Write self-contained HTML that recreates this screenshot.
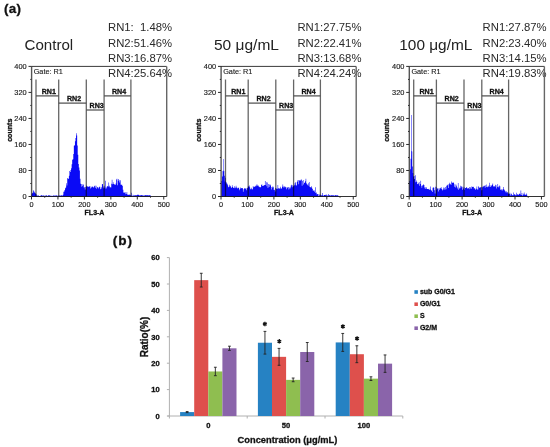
<!DOCTYPE html>
<html><head><meta charset="utf-8"><title>Figure</title>
<style>
html,body{margin:0;padding:0;background:#fff;width:550px;height:447px;overflow:hidden;}
svg{display:block;will-change:transform;}
text{font-family:"Liberation Sans",sans-serif;}
</style></head>
<body>
<svg width="550" height="447" viewBox="0 0 550 447">
<text x="3.9" y="12.9" font-size="13.4" letter-spacing="0.4" font-weight="bold" fill="#111" stroke="#111" stroke-width="0.3">(a)</text>
<text x="24.5" y="50" font-size="15.1" fill="#222">Control</text>
<text x="214.0" y="50.4" font-size="15.5" fill="#222">50 μg/mL</text>
<text x="399.3" y="50.4" font-size="15.4" fill="#222">100 μg/mL</text>
<text x="108.0" y="31.40" font-size="11.3" fill="#2a2a2a">RN1:  1.48%</text>
<text x="108.0" y="46.50" font-size="11.3" fill="#2a2a2a">RN2:51.46%</text>
<text x="108.0" y="61.60" font-size="11.3" fill="#2a2a2a">RN3:16.87%</text>
<text x="108.0" y="76.70" font-size="11.3" fill="#2a2a2a">RN4:25.64%</text>
<text x="297.4" y="31.40" font-size="11.3" fill="#2a2a2a">RN1:27.75%</text>
<text x="297.4" y="46.50" font-size="11.3" fill="#2a2a2a">RN2:22.41%</text>
<text x="297.4" y="61.60" font-size="11.3" fill="#2a2a2a">RN3:13.68%</text>
<text x="297.4" y="76.70" font-size="11.3" fill="#2a2a2a">RN4:24.24%</text>
<text x="482.6" y="31.40" font-size="11.3" fill="#2a2a2a">RN1:27.87%</text>
<text x="482.6" y="46.50" font-size="11.3" fill="#2a2a2a">RN2:23.40%</text>
<text x="482.6" y="61.60" font-size="11.3" fill="#2a2a2a">RN3:14.15%</text>
<text x="482.6" y="76.70" font-size="11.3" fill="#2a2a2a">RN4:19.83%</text>
<path d="M31.50,196.5V194.19H32.05V192.75H32.60V193.14H33.15V190.30H33.70V191.22H34.25V192.18H34.80V192.89H35.35V193.54H35.90V194.03H36.45V195.49H37.00V195.43H37.55V195.70H38.10V195.32H38.65V195.89H39.20V196.08H39.75V196.07H40.30V195.75H40.85V195.24H41.40V195.20H41.95V195.32H42.50V196.05H43.05V195.47H43.60V195.53H44.15V196.01H44.70V195.48H45.25V195.69H45.80V195.59H46.35V195.26H46.90V195.73H47.45V195.96H48.00V195.34H48.55V195.40H49.10V195.57H49.65V195.23H50.20V195.65H50.75V195.94H51.30V195.79H51.85V195.68H52.40V195.97H52.95V195.33H53.50V195.71H54.05V195.54H54.60V195.74H55.15V195.30H55.70V195.90H56.25V195.29H56.80V195.35H57.35V195.93H57.90V196.05H58.45V195.59H59.00V195.57H59.55V195.42H60.10V195.45H60.65V195.76H61.20V195.11H61.75V195.78H62.30V195.40H62.85V194.63H63.40V191.72H63.95V191.42H64.50V190.05H65.05V188.29H65.60V187.47H66.15V183.25H66.70V185.47H67.25V178.04H67.80V178.68H68.35V178.78H68.90V175.72H69.45V171.09H70.00V172.06H70.55V169.92H71.10V168.31H71.65V164.26H72.20V159.85H72.75V159.13H73.30V153.94H73.85V145.66H74.40V145.17H74.95V141.23H75.50V138.00H76.05V133.30H76.60V135.50H77.15V145.48H77.70V154.69H78.25V163.93H78.80V167.52H79.35V170.46H79.90V178.80H80.45V183.77H81.00V184.01H81.55V186.68H82.10V185.85H82.65V183.93H83.20V184.87H83.75V187.42H84.30V187.15H84.85V189.57H85.40V186.88H85.95V186.42H86.50V185.55H87.05V186.16H87.60V186.85H88.15V186.66H88.70V186.72H89.25V186.15H89.80V186.17H90.35V188.41H90.90V187.83H91.45V186.79H92.00V186.75H92.55V186.51H93.10V187.45H93.65V187.29H94.20V186.06H94.75V185.58H95.30V187.74H95.85V185.64H96.40V188.76H96.95V187.41H97.50V187.04H98.05V188.62H98.60V187.62H99.15V186.71H99.70V186.84H100.25V189.32H100.80V188.71H101.35V187.30H101.90V184.23H102.45V184.11H103.00V186.60H103.55V188.24H104.10V185.86H104.65V187.49H105.20V180.68H105.75V188.64H106.30V187.48H106.85V186.22H107.40V186.30H107.95V186.56H108.50V182.41H109.05V185.74H109.60V187.27H110.15V187.36H110.70V187.43H111.25V183.85H111.80V179.74H112.35V184.18H112.90V182.18H113.45V183.90H114.00V184.78H114.55V184.00H115.10V185.09H115.65V183.40H116.20V179.60H116.75V178.84H117.30V185.23H117.85V180.67H118.40V178.88H118.95V180.21H119.50V182.46H120.05V180.36H120.60V184.70H121.15V184.77H121.70V184.84H122.25V186.01H122.80V189.82H123.35V192.59H123.90V192.98H124.45V192.24H125.00V192.37H125.55V194.33H126.10V193.82H126.65V192.04H127.20V194.46H127.75V194.91H128.30V194.76H128.85V194.46H129.40V194.77H129.95V195.53H130.50V195.05H131.05V192.64H131.60V195.72H132.15V196.13H132.70V194.70H133.25V195.64H133.80V195.23H134.35V195.50H134.90V195.26H135.45V195.26H136.00V195.13H136.55V195.27H137.10V194.82H137.65V194.82H138.20V194.86H138.75V194.91H139.30V195.58H139.85V195.78H140.40V195.01H140.95V195.25H141.50V194.91H142.05V195.29H142.60V195.50H143.15V195.46H143.70V195.71H144.25V195.40H144.80V194.95H145.35V195.24H145.90V195.31H146.45V195.20H147.00V194.93H147.55V195.46H148.10V195.34H148.65V195.54H149.20V195.23H149.75V194.99H150.30V195.71H150.85V196.06H151.00V196.5Z" fill="#0a0af6"/>
<path d="M31.5,66.4H166.7" fill="none" stroke="#3a3a3a" stroke-width="1"/>
<path d="M166.7,66.4V196.5" fill="none" stroke="#666" stroke-width="1.4"/>
<path d="M31.6,66.4V196.5" fill="none" stroke="#555" stroke-width="1.4" style="mix-blend-mode:multiply"/>
<path d="M31.5,196.5H166.7" fill="none" stroke="#333" stroke-width="1.1" style="mix-blend-mode:multiply"/>
<path d="M28.5,196.50H31.5" stroke="#2a2a2a" stroke-width="1"/>
<text x="26.70" y="199.10" text-anchor="end" font-size="7.4" fill="#1a1a1a" stroke="#1a1a1a" stroke-width="0.15">0</text>
<path d="M30.3,183.49H31.5" stroke="#2a2a2a" stroke-width="1"/>
<path d="M28.5,170.48H31.5" stroke="#2a2a2a" stroke-width="1"/>
<text x="26.70" y="173.08" text-anchor="end" font-size="7.4" fill="#1a1a1a" stroke="#1a1a1a" stroke-width="0.15">80</text>
<path d="M30.3,157.47H31.5" stroke="#2a2a2a" stroke-width="1"/>
<path d="M28.5,144.46H31.5" stroke="#2a2a2a" stroke-width="1"/>
<text x="26.70" y="147.06" text-anchor="end" font-size="7.4" fill="#1a1a1a" stroke="#1a1a1a" stroke-width="0.15">160</text>
<path d="M30.3,131.45H31.5" stroke="#2a2a2a" stroke-width="1"/>
<path d="M28.5,118.44H31.5" stroke="#2a2a2a" stroke-width="1"/>
<text x="26.70" y="121.04" text-anchor="end" font-size="7.4" fill="#1a1a1a" stroke="#1a1a1a" stroke-width="0.15">240</text>
<path d="M30.3,105.43H31.5" stroke="#2a2a2a" stroke-width="1"/>
<path d="M28.5,92.42H31.5" stroke="#2a2a2a" stroke-width="1"/>
<text x="26.70" y="95.02" text-anchor="end" font-size="7.4" fill="#1a1a1a" stroke="#1a1a1a" stroke-width="0.15">320</text>
<path d="M30.3,79.41H31.5" stroke="#2a2a2a" stroke-width="1"/>
<path d="M28.5,66.40H31.5" stroke="#2a2a2a" stroke-width="1"/>
<text x="26.70" y="69.00" text-anchor="end" font-size="7.4" fill="#1a1a1a" stroke="#1a1a1a" stroke-width="0.15">400</text>
<path d="M31.50,196.5V199.5" stroke="#2a2a2a" stroke-width="1"/>
<text x="31.50" y="207.2" text-anchor="middle" font-size="7.3" fill="#1a1a1a" stroke="#1a1a1a" stroke-width="0.15">0</text>
<path d="M44.73,196.5V197.7" stroke="#2a2a2a" stroke-width="1"/>
<path d="M57.95,196.5V199.5" stroke="#2a2a2a" stroke-width="1"/>
<text x="57.95" y="207.2" text-anchor="middle" font-size="7.3" fill="#1a1a1a" stroke="#1a1a1a" stroke-width="0.15">100</text>
<path d="M71.18,196.5V197.7" stroke="#2a2a2a" stroke-width="1"/>
<path d="M84.40,196.5V199.5" stroke="#2a2a2a" stroke-width="1"/>
<text x="84.40" y="207.2" text-anchor="middle" font-size="7.3" fill="#1a1a1a" stroke="#1a1a1a" stroke-width="0.15">200</text>
<path d="M97.62,196.5V197.7" stroke="#2a2a2a" stroke-width="1"/>
<path d="M110.85,196.5V199.5" stroke="#2a2a2a" stroke-width="1"/>
<text x="110.85" y="207.2" text-anchor="middle" font-size="7.3" fill="#1a1a1a" stroke="#1a1a1a" stroke-width="0.15">300</text>
<path d="M124.08,196.5V197.7" stroke="#2a2a2a" stroke-width="1"/>
<path d="M137.30,196.5V199.5" stroke="#2a2a2a" stroke-width="1"/>
<text x="137.30" y="207.2" text-anchor="middle" font-size="7.3" fill="#1a1a1a" stroke="#1a1a1a" stroke-width="0.15">400</text>
<path d="M150.53,196.5V197.7" stroke="#2a2a2a" stroke-width="1"/>
<path d="M163.75,196.5V199.5" stroke="#2a2a2a" stroke-width="1"/>
<text x="163.75" y="207.2" text-anchor="middle" font-size="7.3" fill="#1a1a1a" stroke="#1a1a1a" stroke-width="0.15">500</text>
<text x="33.70" y="73.9" font-size="7.3" fill="#1a1a1a" stroke="#1a1a1a" stroke-width="0.12">Gate: R1</text>
<path d="M36.00,79.5V196.5" stroke="#666" stroke-width="1.3" style="mix-blend-mode:multiply"/>
<path d="M58.70,79.5V196.5" stroke="#666" stroke-width="1.3" style="mix-blend-mode:multiply"/>
<path d="M86.30,79.5V196.5" stroke="#666" stroke-width="1.3" style="mix-blend-mode:multiply"/>
<path d="M104.10,79.5V196.5" stroke="#666" stroke-width="1.3" style="mix-blend-mode:multiply"/>
<path d="M130.90,79.5V196.5" stroke="#666" stroke-width="1.3" style="mix-blend-mode:multiply"/>
<path d="M36.00,95.9H58.70" stroke="#4a4a4a" stroke-width="1.2"/>
<text x="48.85" y="93.90" text-anchor="middle" font-size="7.1" font-weight="bold" fill="#111" stroke="#111" stroke-width="0.3">RN1</text>
<path d="M58.70,103.1H86.30" stroke="#4a4a4a" stroke-width="1.2"/>
<text x="74.00" y="101.10" text-anchor="middle" font-size="7.1" font-weight="bold" fill="#111" stroke="#111" stroke-width="0.3">RN2</text>
<path d="M86.30,110.0H104.10" stroke="#4a4a4a" stroke-width="1.2"/>
<text x="96.70" y="108.00" text-anchor="middle" font-size="7.1" font-weight="bold" fill="#111" stroke="#111" stroke-width="0.3">RN3</text>
<path d="M104.10,95.9H130.90" stroke="#4a4a4a" stroke-width="1.2"/>
<text x="119.00" y="93.90" text-anchor="middle" font-size="7.1" font-weight="bold" fill="#111" stroke="#111" stroke-width="0.3">RN4</text>
<text x="84.60" y="214.6" font-size="7" font-weight="bold" fill="#111" stroke="#111" stroke-width="0.3">FL3-A</text>
<text transform="translate(11.60,130.2) rotate(-90)" text-anchor="middle" font-size="7.1" font-weight="bold" fill="#111" stroke="#111" stroke-width="0.3">counts</text>
<path d="M221.50,196.5V180.88H222.05V176.43H222.60V171.00H223.15V170.50H223.70V171.00H224.25V175.72H224.80V181.39H225.35V177.75H225.90V183.60H226.45V182.22H227.00V183.87H227.55V185.31H228.10V187.32H228.65V186.70H229.20V184.68H229.75V186.44H230.30V185.73H230.85V187.14H231.40V188.05H231.95V185.31H232.50V187.01H233.05V187.70H233.60V188.04H234.15V186.37H234.70V188.37H235.25V187.58H235.80V185.83H236.35V187.58H236.90V187.74H237.45V188.41H238.00V188.00H238.55V187.43H239.10V190.15H239.65V189.00H240.20V187.54H240.75V188.61H241.30V188.07H241.85V188.05H242.40V188.21H242.95V191.78H243.50V189.36H244.05V188.30H244.60V188.58H245.15V188.58H245.70V188.55H246.25V190.34H246.80V188.35H247.35V187.72H247.90V186.19H248.45V186.42H249.00V185.44H249.55V187.27H250.10V188.68H250.65V189.38H251.20V187.79H251.75V188.96H252.30V189.52H252.85V186.06H253.40V187.16H253.95V187.06H254.50V186.52H255.05V185.79H255.60V186.52H256.15V185.43H256.70V184.25H257.25V185.69H257.80V185.22H258.35V186.13H258.90V187.32H259.45V186.83H260.00V187.29H260.55V187.21H261.10V184.92H261.65V184.14H262.20V186.02H262.75V185.65H263.30V185.72H263.85V185.19H264.40V184.94H264.95V180.91H265.50V184.90H266.05V182.18H266.60V186.23H267.15V182.43H267.70V187.93H268.25V184.04H268.80V187.01H269.35V184.55H269.90V184.48H270.45V185.57H271.00V189.56H271.55V187.11H272.10V187.43H272.65V186.33H273.20V187.19H273.75V189.99H274.30V189.79H274.85V191.55H275.40V187.94H275.95V188.55H276.50V188.73H277.05V188.78H277.60V185.12H278.15V188.45H278.70V187.93H279.25V188.78H279.80V188.41H280.35V186.65H280.90V188.47H281.45V188.62H282.00V186.75H282.55V184.49H283.10V186.53H283.65V187.81H284.20V186.46H284.75V186.45H285.30V187.25H285.85V187.23H286.40V189.28H286.95V187.80H287.50V187.29H288.05V186.92H288.60V189.53H289.15V187.44H289.70V188.76H290.25V187.46H290.80V185.48H291.35V184.75H291.90V187.13H292.45V185.34H293.00V186.29H293.55V185.54H294.10V185.14H294.65V183.34H295.20V182.25H295.75V185.35H296.30V185.60H296.85V182.09H297.40V180.43H297.95V180.11H298.50V184.17H299.05V180.00H299.60V180.98H300.15V180.45H300.70V179.80H301.25V179.48H301.80V185.64H302.35V180.96H302.90V180.07H303.45V184.61H304.00V183.04H304.55V182.47H305.10V181.32H305.65V178.63H306.20V183.26H306.75V184.35H307.30V184.74H307.85V185.64H308.40V183.36H308.95V182.05H309.50V186.82H310.05V187.16H310.60V187.13H311.15V186.34H311.70V187.83H312.25V189.11H312.80V190.75H313.35V190.42H313.90V190.13H314.45V191.74H315.00V187.36H315.55V193.00H316.10V192.42H316.65V194.62H317.20V193.92H317.75V193.98H318.30V196.02H318.85V194.23H319.40V195.39H319.95V195.52H320.50V194.44H321.05V195.13H321.60V195.38H322.15V192.94H322.70V195.24H323.25V196.13H323.80V194.91H324.35V194.94H324.90V194.67H325.45V195.16H326.00V194.62H326.55V195.48H327.10V195.49H327.65V195.64H328.20V194.02H328.75V195.47H329.30V194.93H329.85V195.40H330.40V195.49H330.95V195.59H331.50V195.08H332.05V195.09H332.60V195.66H333.15V195.04H333.70V195.76H334.25V195.68H334.80V195.02H335.35V195.14H335.90V195.59H336.45V195.19H337.00V195.06H337.55V195.74H338.10V195.72H338.65V196.30H339.00V196.5Z" fill="#0a0af6"/>
<path d="M221.0,66.4H356.2" fill="none" stroke="#3a3a3a" stroke-width="1"/>
<path d="M356.2,66.4V196.5" fill="none" stroke="#666" stroke-width="1.4"/>
<path d="M221.1,66.4V196.5" fill="none" stroke="#555" stroke-width="1.4" style="mix-blend-mode:multiply"/>
<path d="M221.0,196.5H356.2" fill="none" stroke="#333" stroke-width="1.1" style="mix-blend-mode:multiply"/>
<path d="M218.0,196.50H221.0" stroke="#2a2a2a" stroke-width="1"/>
<text x="216.20" y="199.10" text-anchor="end" font-size="7.4" fill="#1a1a1a" stroke="#1a1a1a" stroke-width="0.15">0</text>
<path d="M219.8,183.49H221.0" stroke="#2a2a2a" stroke-width="1"/>
<path d="M218.0,170.48H221.0" stroke="#2a2a2a" stroke-width="1"/>
<text x="216.20" y="173.08" text-anchor="end" font-size="7.4" fill="#1a1a1a" stroke="#1a1a1a" stroke-width="0.15">80</text>
<path d="M219.8,157.47H221.0" stroke="#2a2a2a" stroke-width="1"/>
<path d="M218.0,144.46H221.0" stroke="#2a2a2a" stroke-width="1"/>
<text x="216.20" y="147.06" text-anchor="end" font-size="7.4" fill="#1a1a1a" stroke="#1a1a1a" stroke-width="0.15">160</text>
<path d="M219.8,131.45H221.0" stroke="#2a2a2a" stroke-width="1"/>
<path d="M218.0,118.44H221.0" stroke="#2a2a2a" stroke-width="1"/>
<text x="216.20" y="121.04" text-anchor="end" font-size="7.4" fill="#1a1a1a" stroke="#1a1a1a" stroke-width="0.15">240</text>
<path d="M219.8,105.43H221.0" stroke="#2a2a2a" stroke-width="1"/>
<path d="M218.0,92.42H221.0" stroke="#2a2a2a" stroke-width="1"/>
<text x="216.20" y="95.02" text-anchor="end" font-size="7.4" fill="#1a1a1a" stroke="#1a1a1a" stroke-width="0.15">320</text>
<path d="M219.8,79.41H221.0" stroke="#2a2a2a" stroke-width="1"/>
<path d="M218.0,66.40H221.0" stroke="#2a2a2a" stroke-width="1"/>
<text x="216.20" y="69.00" text-anchor="end" font-size="7.4" fill="#1a1a1a" stroke="#1a1a1a" stroke-width="0.15">400</text>
<path d="M221.00,196.5V199.5" stroke="#2a2a2a" stroke-width="1"/>
<text x="221.00" y="207.2" text-anchor="middle" font-size="7.3" fill="#1a1a1a" stroke="#1a1a1a" stroke-width="0.15">0</text>
<path d="M234.22,196.5V197.7" stroke="#2a2a2a" stroke-width="1"/>
<path d="M247.45,196.5V199.5" stroke="#2a2a2a" stroke-width="1"/>
<text x="247.45" y="207.2" text-anchor="middle" font-size="7.3" fill="#1a1a1a" stroke="#1a1a1a" stroke-width="0.15">100</text>
<path d="M260.68,196.5V197.7" stroke="#2a2a2a" stroke-width="1"/>
<path d="M273.90,196.5V199.5" stroke="#2a2a2a" stroke-width="1"/>
<text x="273.90" y="207.2" text-anchor="middle" font-size="7.3" fill="#1a1a1a" stroke="#1a1a1a" stroke-width="0.15">200</text>
<path d="M287.12,196.5V197.7" stroke="#2a2a2a" stroke-width="1"/>
<path d="M300.35,196.5V199.5" stroke="#2a2a2a" stroke-width="1"/>
<text x="300.35" y="207.2" text-anchor="middle" font-size="7.3" fill="#1a1a1a" stroke="#1a1a1a" stroke-width="0.15">300</text>
<path d="M313.57,196.5V197.7" stroke="#2a2a2a" stroke-width="1"/>
<path d="M326.80,196.5V199.5" stroke="#2a2a2a" stroke-width="1"/>
<text x="326.80" y="207.2" text-anchor="middle" font-size="7.3" fill="#1a1a1a" stroke="#1a1a1a" stroke-width="0.15">400</text>
<path d="M340.02,196.5V197.7" stroke="#2a2a2a" stroke-width="1"/>
<path d="M353.25,196.5V199.5" stroke="#2a2a2a" stroke-width="1"/>
<text x="353.25" y="207.2" text-anchor="middle" font-size="7.3" fill="#1a1a1a" stroke="#1a1a1a" stroke-width="0.15">500</text>
<text x="223.20" y="73.9" font-size="7.3" fill="#1a1a1a" stroke="#1a1a1a" stroke-width="0.12">Gate: R1</text>
<path d="M225.50,79.5V196.5" stroke="#666" stroke-width="1.3" style="mix-blend-mode:multiply"/>
<path d="M248.20,79.5V196.5" stroke="#666" stroke-width="1.3" style="mix-blend-mode:multiply"/>
<path d="M275.80,79.5V196.5" stroke="#666" stroke-width="1.3" style="mix-blend-mode:multiply"/>
<path d="M293.60,79.5V196.5" stroke="#666" stroke-width="1.3" style="mix-blend-mode:multiply"/>
<path d="M320.40,79.5V196.5" stroke="#666" stroke-width="1.3" style="mix-blend-mode:multiply"/>
<path d="M225.50,95.9H248.20" stroke="#4a4a4a" stroke-width="1.2"/>
<text x="238.35" y="93.90" text-anchor="middle" font-size="7.1" font-weight="bold" fill="#111" stroke="#111" stroke-width="0.3">RN1</text>
<path d="M248.20,103.1H275.80" stroke="#4a4a4a" stroke-width="1.2"/>
<text x="263.50" y="101.10" text-anchor="middle" font-size="7.1" font-weight="bold" fill="#111" stroke="#111" stroke-width="0.3">RN2</text>
<path d="M275.80,110.0H293.60" stroke="#4a4a4a" stroke-width="1.2"/>
<text x="286.20" y="108.00" text-anchor="middle" font-size="7.1" font-weight="bold" fill="#111" stroke="#111" stroke-width="0.3">RN3</text>
<path d="M293.60,95.9H320.40" stroke="#4a4a4a" stroke-width="1.2"/>
<text x="308.50" y="93.90" text-anchor="middle" font-size="7.1" font-weight="bold" fill="#111" stroke="#111" stroke-width="0.3">RN4</text>
<text x="274.10" y="214.6" font-size="7" font-weight="bold" fill="#111" stroke="#111" stroke-width="0.3">FL3-A</text>
<text transform="translate(201.10,130.2) rotate(-90)" text-anchor="middle" font-size="7.1" font-weight="bold" fill="#111" stroke="#111" stroke-width="0.3">counts</text>
<path d="M409.50,196.5V181.01H410.05V169.27H410.60V158.73H411.15V151.00H411.70V151.50H412.25V166.59H412.80V173.03H413.35V176.44H413.90V176.05H414.45V179.02H415.00V175.27H415.55V182.13H416.10V180.54H416.65V181.94H417.20V183.91H417.75V184.35H418.30V183.28H418.85V182.00H419.40V185.75H419.95V184.06H420.50V180.79H421.05V185.81H421.60V187.78H422.15V185.53H422.70V185.18H423.25V184.14H423.80V185.10H424.35V187.52H424.90V189.00H425.45V187.26H426.00V187.35H426.55V188.72H427.10V188.94H427.65V188.90H428.20V189.19H428.75V188.73H429.30V190.01H429.85V189.47H430.40V186.53H430.95V190.03H431.50V191.10H432.05V192.07H432.60V187.66H433.15V187.36H433.70V187.63H434.25V190.27H434.80V193.48H435.35V186.71H435.90V189.86H436.45V187.23H437.00V187.97H437.55V188.96H438.10V191.40H438.65V188.25H439.20V189.64H439.75V188.26H440.30V188.26H440.85V187.08H441.40V188.68H441.95V190.41H442.50V189.38H443.05V187.42H443.60V189.62H444.15V187.67H444.70V189.75H445.25V186.99H445.80V189.15H446.35V185.79H446.90V185.41H447.45V184.81H448.00V188.09H448.55V184.21H449.10V182.75H449.65V184.27H450.20V183.64H450.75V185.06H451.30V181.57H451.85V182.66H452.40V182.76H452.95V182.24H453.50V183.12H454.05V186.64H454.60V184.20H455.15V187.55H455.70V184.47H456.25V185.67H456.80V187.26H457.35V188.40H457.90V182.92H458.45V189.78H459.00V187.63H459.55V188.71H460.10V185.68H460.65V187.82H461.20V186.18H461.75V186.79H462.30V189.82H462.85V186.82H463.40V188.60H463.95V187.25H464.50V189.87H465.05V188.04H465.60V188.11H466.15V187.09H466.70V187.86H467.25V188.64H467.80V187.94H468.35V188.26H468.90V189.35H469.45V187.08H470.00V188.59H470.55V187.06H471.10V188.68H471.65V186.32H472.20V187.04H472.75V187.12H473.30V186.85H473.85V188.64H474.40V188.08H474.95V188.75H475.50V190.07H476.05V188.63H476.60V186.60H477.15V189.45H477.70V189.45H478.25V186.16H478.80V187.05H479.35V188.10H479.90V187.73H480.45V186.96H481.00V187.05H481.55V190.26H482.10V187.32H482.65V186.40H483.20V186.40H483.75V185.75H484.30V185.72H484.85V187.74H485.40V185.24H485.95V186.94H486.50V184.48H487.05V187.13H487.60V186.40H488.15V185.70H488.70V187.00H489.25V182.64H489.80V185.17H490.35V187.11H490.90V186.15H491.45V185.18H492.00V184.70H492.55V183.59H493.10V185.91H493.65V187.02H494.20V185.88H494.75V186.78H495.30V184.68H495.85V185.31H496.40V188.49H496.95V187.00H497.50V184.00H498.05V186.59H498.60V187.52H499.15V185.60H499.70V186.19H500.25V189.89H500.80V189.10H501.35V190.35H501.90V189.23H502.45V190.46H503.00V187.01H503.55V189.24H504.10V189.76H504.65V190.70H505.20V191.46H505.75V192.38H506.30V191.15H506.85V192.70H507.40V192.10H507.95V193.89H508.50V192.99H509.05V193.92H509.60V192.72H510.15V195.42H510.70V193.75H511.25V193.73H511.80V195.46H512.35V194.98H512.90V195.29H513.45V192.48H514.00V193.96H514.55V194.72H515.10V194.84H515.65V195.46H516.20V192.70H516.75V194.74H517.30V193.88H517.85V195.00H518.40V194.50H518.95V193.97H519.50V193.44H520.05V194.49H520.60V190.40H521.15V194.98H521.70V193.05H522.25V195.69H522.80V194.89H523.35V193.86H523.90V192.51H524.45V194.62H525.00V194.70H525.55V194.81H526.10V193.53H526.65V194.64H527.20V196.02H527.50V196.5Z" fill="#0a0af6"/>
<path d="M409.2,66.4H544.4" fill="none" stroke="#3a3a3a" stroke-width="1"/>
<path d="M544.4,66.4V196.5" fill="none" stroke="#666" stroke-width="1.4"/>
<path d="M409.3,66.4V196.5" fill="none" stroke="#555" stroke-width="1.4" style="mix-blend-mode:multiply"/>
<path d="M409.2,196.5H544.4" fill="none" stroke="#333" stroke-width="1.1" style="mix-blend-mode:multiply"/>
<path d="M406.2,196.50H409.2" stroke="#2a2a2a" stroke-width="1"/>
<text x="404.40" y="199.10" text-anchor="end" font-size="7.4" fill="#1a1a1a" stroke="#1a1a1a" stroke-width="0.15">0</text>
<path d="M408.0,183.49H409.2" stroke="#2a2a2a" stroke-width="1"/>
<path d="M406.2,170.48H409.2" stroke="#2a2a2a" stroke-width="1"/>
<text x="404.40" y="173.08" text-anchor="end" font-size="7.4" fill="#1a1a1a" stroke="#1a1a1a" stroke-width="0.15">80</text>
<path d="M408.0,157.47H409.2" stroke="#2a2a2a" stroke-width="1"/>
<path d="M406.2,144.46H409.2" stroke="#2a2a2a" stroke-width="1"/>
<text x="404.40" y="147.06" text-anchor="end" font-size="7.4" fill="#1a1a1a" stroke="#1a1a1a" stroke-width="0.15">160</text>
<path d="M408.0,131.45H409.2" stroke="#2a2a2a" stroke-width="1"/>
<path d="M406.2,118.44H409.2" stroke="#2a2a2a" stroke-width="1"/>
<text x="404.40" y="121.04" text-anchor="end" font-size="7.4" fill="#1a1a1a" stroke="#1a1a1a" stroke-width="0.15">240</text>
<path d="M408.0,105.43H409.2" stroke="#2a2a2a" stroke-width="1"/>
<path d="M406.2,92.42H409.2" stroke="#2a2a2a" stroke-width="1"/>
<text x="404.40" y="95.02" text-anchor="end" font-size="7.4" fill="#1a1a1a" stroke="#1a1a1a" stroke-width="0.15">320</text>
<path d="M408.0,79.41H409.2" stroke="#2a2a2a" stroke-width="1"/>
<path d="M406.2,66.40H409.2" stroke="#2a2a2a" stroke-width="1"/>
<text x="404.40" y="69.00" text-anchor="end" font-size="7.4" fill="#1a1a1a" stroke="#1a1a1a" stroke-width="0.15">400</text>
<path d="M409.20,196.5V199.5" stroke="#2a2a2a" stroke-width="1"/>
<text x="409.20" y="207.2" text-anchor="middle" font-size="7.3" fill="#1a1a1a" stroke="#1a1a1a" stroke-width="0.15">0</text>
<path d="M422.43,196.5V197.7" stroke="#2a2a2a" stroke-width="1"/>
<path d="M435.65,196.5V199.5" stroke="#2a2a2a" stroke-width="1"/>
<text x="435.65" y="207.2" text-anchor="middle" font-size="7.3" fill="#1a1a1a" stroke="#1a1a1a" stroke-width="0.15">100</text>
<path d="M448.88,196.5V197.7" stroke="#2a2a2a" stroke-width="1"/>
<path d="M462.10,196.5V199.5" stroke="#2a2a2a" stroke-width="1"/>
<text x="462.10" y="207.2" text-anchor="middle" font-size="7.3" fill="#1a1a1a" stroke="#1a1a1a" stroke-width="0.15">200</text>
<path d="M475.32,196.5V197.7" stroke="#2a2a2a" stroke-width="1"/>
<path d="M488.55,196.5V199.5" stroke="#2a2a2a" stroke-width="1"/>
<text x="488.55" y="207.2" text-anchor="middle" font-size="7.3" fill="#1a1a1a" stroke="#1a1a1a" stroke-width="0.15">300</text>
<path d="M501.77,196.5V197.7" stroke="#2a2a2a" stroke-width="1"/>
<path d="M515.00,196.5V199.5" stroke="#2a2a2a" stroke-width="1"/>
<text x="515.00" y="207.2" text-anchor="middle" font-size="7.3" fill="#1a1a1a" stroke="#1a1a1a" stroke-width="0.15">400</text>
<path d="M528.23,196.5V197.7" stroke="#2a2a2a" stroke-width="1"/>
<path d="M541.45,196.5V199.5" stroke="#2a2a2a" stroke-width="1"/>
<text x="541.45" y="207.2" text-anchor="middle" font-size="7.3" fill="#1a1a1a" stroke="#1a1a1a" stroke-width="0.15">500</text>
<text x="411.40" y="73.9" font-size="7.3" fill="#1a1a1a" stroke="#1a1a1a" stroke-width="0.12">Gate: R1</text>
<path d="M413.70,79.5V196.5" stroke="#666" stroke-width="1.3" style="mix-blend-mode:multiply"/>
<path d="M436.40,79.5V196.5" stroke="#666" stroke-width="1.3" style="mix-blend-mode:multiply"/>
<path d="M464.00,79.5V196.5" stroke="#666" stroke-width="1.3" style="mix-blend-mode:multiply"/>
<path d="M481.80,79.5V196.5" stroke="#666" stroke-width="1.3" style="mix-blend-mode:multiply"/>
<path d="M508.60,79.5V196.5" stroke="#666" stroke-width="1.3" style="mix-blend-mode:multiply"/>
<path d="M413.70,95.9H436.40" stroke="#4a4a4a" stroke-width="1.2"/>
<text x="426.55" y="93.90" text-anchor="middle" font-size="7.1" font-weight="bold" fill="#111" stroke="#111" stroke-width="0.3">RN1</text>
<path d="M436.40,103.1H464.00" stroke="#4a4a4a" stroke-width="1.2"/>
<text x="451.70" y="101.10" text-anchor="middle" font-size="7.1" font-weight="bold" fill="#111" stroke="#111" stroke-width="0.3">RN2</text>
<path d="M464.00,110.0H481.80" stroke="#4a4a4a" stroke-width="1.2"/>
<text x="474.40" y="108.00" text-anchor="middle" font-size="7.1" font-weight="bold" fill="#111" stroke="#111" stroke-width="0.3">RN3</text>
<path d="M481.80,95.9H508.60" stroke="#4a4a4a" stroke-width="1.2"/>
<text x="496.70" y="93.90" text-anchor="middle" font-size="7.1" font-weight="bold" fill="#111" stroke="#111" stroke-width="0.3">RN4</text>
<text x="462.30" y="214.6" font-size="7" font-weight="bold" fill="#111" stroke="#111" stroke-width="0.3">FL3-A</text>
<text transform="translate(389.30,130.2) rotate(-90)" text-anchor="middle" font-size="7.1" font-weight="bold" fill="#111" stroke="#111" stroke-width="0.3">counts</text>
<rect x="411.1" y="115" width="0.8" height="40" fill="#3a3aff" opacity="0.75"/>
<rect x="223.1" y="159" width="0.7" height="13" fill="#3a3aff" opacity="0.8"/>
<text x="112.8" y="245.3" font-size="13.6" letter-spacing="0.9" font-weight="bold" fill="#111" stroke="#111" stroke-width="0.3">(b)</text>
<path d="M169.4,257.60V416.0" stroke="#b0b0b0" stroke-width="1"/>
<path d="M166.9,416.00H169.4" stroke="#b0b0b0" stroke-width="1"/>
<text x="159.8" y="418.70" text-anchor="end" font-size="7.6" font-weight="bold" fill="#111" stroke="#111" stroke-width="0.3">0</text>
<path d="M166.9,389.60H169.4" stroke="#b0b0b0" stroke-width="1"/>
<text x="159.8" y="392.30" text-anchor="end" font-size="7.6" font-weight="bold" fill="#111" stroke="#111" stroke-width="0.3">10</text>
<path d="M166.9,363.20H169.4" stroke="#b0b0b0" stroke-width="1"/>
<text x="159.8" y="365.90" text-anchor="end" font-size="7.6" font-weight="bold" fill="#111" stroke="#111" stroke-width="0.3">20</text>
<path d="M166.9,336.80H169.4" stroke="#b0b0b0" stroke-width="1"/>
<text x="159.8" y="339.50" text-anchor="end" font-size="7.6" font-weight="bold" fill="#111" stroke="#111" stroke-width="0.3">30</text>
<path d="M166.9,310.40H169.4" stroke="#b0b0b0" stroke-width="1"/>
<text x="159.8" y="313.10" text-anchor="end" font-size="7.6" font-weight="bold" fill="#111" stroke="#111" stroke-width="0.3">40</text>
<path d="M166.9,284.00H169.4" stroke="#b0b0b0" stroke-width="1"/>
<text x="159.8" y="286.70" text-anchor="end" font-size="7.6" font-weight="bold" fill="#111" stroke="#111" stroke-width="0.3">50</text>
<path d="M166.9,257.60H169.4" stroke="#b0b0b0" stroke-width="1"/>
<text x="159.8" y="260.30" text-anchor="end" font-size="7.6" font-weight="bold" fill="#111" stroke="#111" stroke-width="0.3">60</text>
<path d="M167.4,416.0H402.80" stroke="#b0b0b0" stroke-width="1"/>
<path d="M169.40,416.0V418.5" stroke="#b0b0b0" stroke-width="1"/>
<path d="M247.20,416.0V418.5" stroke="#b0b0b0" stroke-width="1"/>
<path d="M325.00,416.0V418.5" stroke="#b0b0b0" stroke-width="1"/>
<path d="M402.80,416.0V418.5" stroke="#b0b0b0" stroke-width="1"/>
<rect x="180.10" y="412.09" width="14.10" height="3.91" fill="#2682c3"/>
<rect x="194.20" y="280.15" width="14.10" height="135.85" fill="#de504c"/>
<rect x="208.30" y="371.46" width="14.10" height="44.54" fill="#8fbe50"/>
<rect x="222.40" y="348.31" width="14.10" height="67.69" fill="#8a64aa"/>
<path d="M187.15,411.56V412.62M185.75,411.56H188.55M185.75,412.62H188.55" stroke="#222" stroke-width="0.9" fill="none"/>
<path d="M201.25,273.28V287.01M199.85,273.28H202.65M199.85,287.01H202.65" stroke="#222" stroke-width="0.9" fill="none"/>
<path d="M215.35,367.24V375.69M213.95,367.24H216.75M213.95,375.69H216.75" stroke="#222" stroke-width="0.9" fill="none"/>
<path d="M229.45,346.20V350.42M228.05,346.20H230.85M228.05,350.42H230.85" stroke="#222" stroke-width="0.9" fill="none"/>
<text x="208.30" y="428.3" text-anchor="middle" font-size="7.6" font-weight="bold" fill="#111" stroke="#111" stroke-width="0.3">0</text>
<rect x="257.90" y="342.74" width="14.10" height="73.26" fill="#2682c3"/>
<rect x="272.00" y="356.84" width="14.10" height="59.16" fill="#de504c"/>
<rect x="286.10" y="379.88" width="14.10" height="36.12" fill="#8fbe50"/>
<rect x="300.20" y="352.01" width="14.10" height="63.99" fill="#8a64aa"/>
<path d="M264.95,331.39V354.09M263.55,331.39H266.35M263.55,354.09H266.35" stroke="#222" stroke-width="0.9" fill="none"/>
<path d="M279.05,348.39V365.29M277.65,348.39H280.45M277.65,365.29H280.45" stroke="#222" stroke-width="0.9" fill="none"/>
<path d="M293.15,378.04V381.73M291.75,378.04H294.55M291.75,381.73H294.55" stroke="#222" stroke-width="0.9" fill="none"/>
<path d="M307.25,342.50V361.51M305.85,342.50H308.65M305.85,361.51H308.65" stroke="#222" stroke-width="0.9" fill="none"/>
<text x="286.10" y="428.3" text-anchor="middle" font-size="7.6" font-weight="bold" fill="#111" stroke="#111" stroke-width="0.3">50</text>
<rect x="335.70" y="342.42" width="14.10" height="73.58" fill="#2682c3"/>
<rect x="349.80" y="354.22" width="14.10" height="61.78" fill="#de504c"/>
<rect x="363.90" y="378.64" width="14.10" height="37.36" fill="#8fbe50"/>
<rect x="378.00" y="363.65" width="14.10" height="52.35" fill="#8a64aa"/>
<path d="M342.75,333.45V351.40M341.35,333.45H344.15M341.35,351.40H344.15" stroke="#222" stroke-width="0.9" fill="none"/>
<path d="M356.85,345.78V362.67M355.45,345.78H358.25M355.45,362.67H358.25" stroke="#222" stroke-width="0.9" fill="none"/>
<path d="M370.95,376.80V380.49M369.55,376.80H372.35M369.55,380.49H372.35" stroke="#222" stroke-width="0.9" fill="none"/>
<path d="M385.05,354.94V372.36M383.65,354.94H386.45M383.65,372.36H386.45" stroke="#222" stroke-width="0.9" fill="none"/>
<text x="363.90" y="428.3" text-anchor="middle" font-size="7.6" font-weight="bold" fill="#111" stroke="#111" stroke-width="0.3">100</text>
<path d="M264.90,326.20L264.90,321.80M262.99,325.10L266.81,322.90M262.99,322.90L266.81,325.10" stroke="#111" stroke-width="1.3"/>
<path d="M279.30,343.50L279.30,339.10M277.39,342.40L281.21,340.20M277.39,340.20L281.21,342.40" stroke="#111" stroke-width="1.3"/>
<path d="M342.90,328.70L342.90,324.30M340.99,327.60L344.81,325.40M340.99,325.40L344.81,327.60" stroke="#111" stroke-width="1.3"/>
<path d="M357.10,340.70L357.10,336.30M355.19,339.60L359.01,337.40M355.19,337.40L359.01,339.60" stroke="#111" stroke-width="1.3"/>
<rect x="414.4" y="290.20" width="3.5" height="3.6" fill="#2682c3"/>
<text x="419.9" y="294.10" font-size="7" font-weight="bold" fill="#111" stroke="#111" stroke-width="0.3">sub G0/G1</text>
<rect x="414.4" y="302.40" width="3.5" height="3.6" fill="#de504c"/>
<text x="419.9" y="306.30" font-size="7" font-weight="bold" fill="#111" stroke="#111" stroke-width="0.3">G0/G1</text>
<rect x="414.4" y="314.40" width="3.5" height="3.6" fill="#8fbe50"/>
<text x="419.9" y="318.30" font-size="7" font-weight="bold" fill="#111" stroke="#111" stroke-width="0.3">S</text>
<rect x="414.4" y="326.40" width="3.5" height="3.6" fill="#8a64aa"/>
<text x="419.9" y="330.30" font-size="7" font-weight="bold" fill="#111" stroke="#111" stroke-width="0.3">G2/M</text>
<text transform="translate(148.2,337) rotate(-90)" text-anchor="middle" font-size="10" font-weight="bold" fill="#111" stroke="#111" stroke-width="0.3">Ratio(%)</text>
<text x="237.6" y="443.1" font-size="9.3" font-weight="bold" fill="#111" stroke="#111" stroke-width="0.3">Concentration (μg/mL)</text>
</svg>
</body></html>
